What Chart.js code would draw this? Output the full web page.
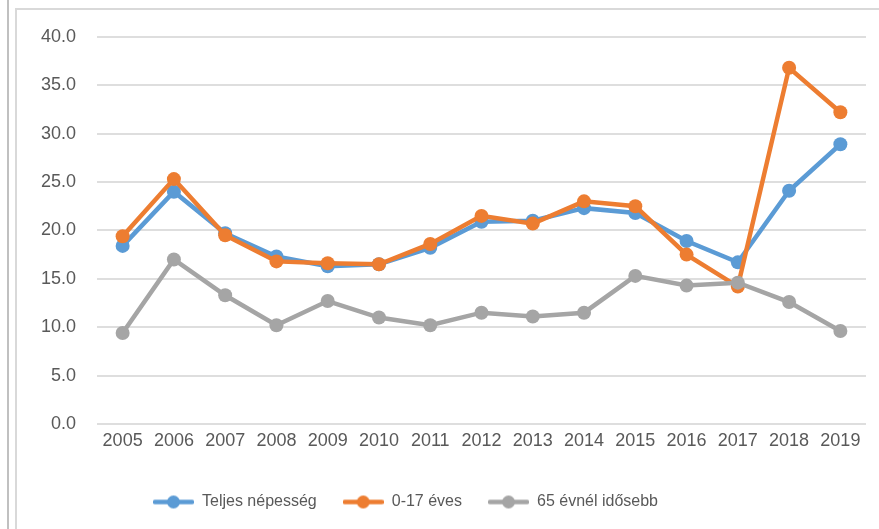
<!DOCTYPE html>
<html lang="hu">
<head>
  <meta charset="UTF-8">
  <title>Teljes népesség, 0-17 éves, 65 évnél idősebb</title>
  <script src="https://cdn.jsdelivr.net/npm/chart.js"></script>
  <style>
    html, body {
      margin: 0;
      padding: 0;
      background: #fff;
      width: 879px;
      height: 529px;
      overflow: hidden;
    }

    #outerLine {
      position: absolute;
      left: 7px;
      top: 0;
      width: 2px;
      height: 529px;
      background: #c0c0c0;
    }

    #frame {
      position: absolute;
      left: 15px;
      top: 8px;
      width: 864px;
      height: 521px;
      border-left: 2px solid #d9d9d9;
      border-top: 2px solid #d9d9d9;
    }

    #chartContainer {
      position: absolute;
      left: 0;
      top: -5px;
      width: 862px;
      height: 524px;
    }
  </style>
</head>
<body>

  <div id="outerLine"></div>
  <div id="frame">
    <div id="chartContainer">
      <canvas id="trendChart"></canvas>
    </div>
  </div>

  <script>
    const years = ["2005", "2006", "2007", "2008", "2009", "2010", "2011", "2012",
      "2013", "2014", "2015", "2016", "2017", "2018", "2019"];
    const seriesNames = ["Teljes népesség", "0-17 éves", "65 évnél idősebb"];
    const totalPop = [18.4, 24.0, 19.7, 17.3, 16.3, 16.5, 18.2, 20.9, 21.0, 22.3, 21.8, 18.9, 16.7, 24.1, 28.9];
    const age0to17 = [19.4, 25.3, 19.5, 16.8, 16.6, 16.5, 18.6, 21.5, 20.7, 23.0, 22.5, 17.5, 14.2, 36.8, 32.2];
    const age65plus = [9.4, 17.0, 13.3, 10.2, 12.7, 11.0, 10.2, 11.5, 11.1, 11.5, 15.3, 14.3, 14.6, 12.6, 9.6];
    const yTicks = [0, 5, 10, 15, 20, 25, 30, 35, 40];

    const colors = ['#5b9bd5', '#ed7d31', '#a5a5a5'];
    const textColor = '#595959';

    // small line+marker image for the legend, like Excel's
    function legendMarker(color) {
      const c = document.createElement('canvas');
      c.width = 41;
      c.height = 15;
      const g = c.getContext('2d');
      g.strokeStyle = color;
      g.lineWidth = 4.5;
      g.lineCap = 'round';
      g.beginPath();
      g.moveTo(2, 7.5);
      g.lineTo(39, 7.5);
      g.stroke();
      g.fillStyle = color;
      g.beginPath();
      g.arc(20.5, 7.5, 6.5, 0, Math.PI * 2);
      g.fill();
      return c;
    }

    const allValues = [totalPop, age0to17, age65plus];
    const drawOrder = [2, 1, 0]; // gray on top, then orange, then blue

    const datasets = allValues.map((vals, i) => ({
      label: seriesNames[i],
      data: vals,
      borderColor: colors[i],
      backgroundColor: colors[i],
      borderWidth: 4.5,
      pointStyle: 'circle',
      pointRadius: 7,
      pointHoverRadius: 7,
      pointBorderWidth: 0,
      tension: 0,
      order: drawOrder[i]
    }));

    // move the legend to where Excel put it
    const legendPlacer = {
      id: 'legendPlacer',
      beforeDraw(chart) {
        const lg = chart.legend;
        const h = lg.bottom - lg.top;
        lg.left = 110;
        lg.right = chart.width;
        lg.top = 463;
        lg.bottom = lg.top + h;
      }
    };

    const ctx = document.getElementById('trendChart').getContext('2d');
    new Chart(ctx, {
      type: 'line',
      data: {
        labels: years,
        datasets: datasets
      },
      options: {
        responsive: true,
        maintainAspectRatio: false,
        animation: false,
        layout: {
          padding: { left: 0, right: 13, top: 15, bottom: 15 }
        },
        scales: {
          x: {
            offset: true,
            grid: { display: false, drawTicks: false },
            border: { display: false },
            ticks: {
              color: textColor,
              font: { family: 'Liberation Sans', size: 18 },
              padding: 6,
              autoSkip: false,
              maxRotation: 0
            },
            afterFit: s => { s.height = 38; }
          },
          y: {
            min: 0,
            max: 40,
            afterBuildTicks: s => { s.ticks = yTicks.map(v => ({ value: v })); },
            grid: { color: '#dedede', lineWidth: 2, drawTicks: false },
            border: { display: false },
            ticks: {
              color: textColor,
              font: { family: 'Liberation Sans', size: 18 },
              padding: 21,
              callback: v => Number(v).toFixed(1)
            },
            afterFit: s => { s.width = 80; }
          }
        },
        plugins: {
          legend: {
            display: true,
            position: 'bottom',
            align: 'start',
            labels: {
              color: textColor,
              font: { family: 'Liberation Sans', size: 16 },
              usePointStyle: true,
              pointStyleWidth: 41,
              padding: 26,
              generateLabels: chart => chart.data.datasets.map((d, i) => ({
                text: d.label,
                pointStyle: legendMarker(colors[i]),
                fillStyle: colors[i],
                strokeStyle: colors[i],
                lineWidth: 0,
                fontColor: textColor,
                hidden: false,
                datasetIndex: i
              }))
            }
          },
          tooltip: { enabled: false },
          title: { display: false }
        }
      },
      plugins: [legendPlacer]
    });
  </script>

</body>
</html>
